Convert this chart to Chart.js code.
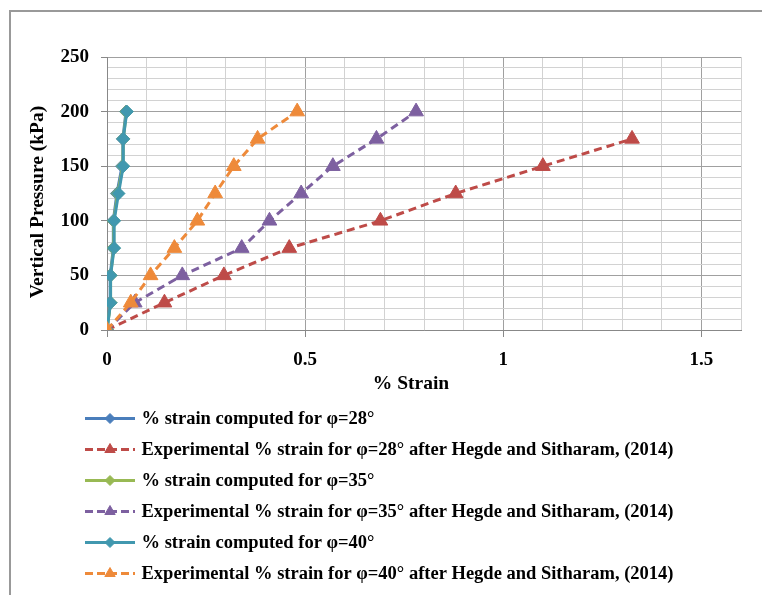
<!DOCTYPE html>
<html>
<head>
<meta charset="utf-8">
<title>Vertical Pressure vs % Strain</title>
<script src="https://cdn.jsdelivr.net/npm/chart.js@4/dist/chart.umd.min.js"></script>
<style>
	html, body { margin: 0; padding: 0; background: #fff; }
</style>
</head>
<body>
<canvas id="myChart" width="762" height="595"></canvas>
<script>
'use strict';

// vertical pressure steps (kPa)
var pressure = [0, 25, 50, 75, 100, 125, 150, 175, 200];
var pressureExp28 = [0, 25, 50, 75, 100, 125, 150, 175];

// % strain
var strainComputed28 = [0, 0.008, 0.008, 0.016, 0.016, 0.025, 0.038, 0.04, 0.048];
var strainExp28 = [0, 0.145, 0.295, 0.46, 0.69, 0.88, 1.10, 1.325];
var strainComputed35 = [0, 0.009, 0.009, 0.017, 0.017, 0.027, 0.04, 0.041, 0.049];
var strainExp35 = [0, 0.07, 0.19, 0.34, 0.41, 0.49, 0.57, 0.68, 0.78];
var strainComputed40 = [0, 0.009, 0.009, 0.018, 0.018, 0.029, 0.041, 0.041, 0.05];
var strainExp40 = [0, 0.06, 0.11, 0.17, 0.228, 0.273, 0.32, 0.38, 0.48];

var seriesNames = [
	'% strain computed for \u03c6=28\u00b0',
	'Experimental % strain for \u03c6=28\u00b0 after Hegde and Sitharam, (2014)',
	'% strain computed for \u03c6=35\u00b0',
	'Experimental % strain for \u03c6=35\u00b0 after Hegde and Sitharam, (2014)',
	'% strain computed for \u03c6=40\u00b0',
	'Experimental % strain for \u03c6=40\u00b0 after Hegde and Sitharam, (2014)'
];

var xTickLabels = [0, 0.5, 1, 1.5];
var yTickLabels = [0, 50, 100, 150, 200, 250];
var xTitle = '% Strain';
var yTitle = 'Vertical Pressure (kPa)';

(function () {

	var serif = "'Liberation Serif', 'Times New Roman', serif";
	Chart.defaults.font.family = serif;
	Chart.defaults.font.weight = 'bold';
	Chart.defaults.color = '#000';

	var colors = ['#4A7EBB', '#BE4B48', '#98B954', '#7D60A0', '#4198AF', '#EE8A3A'];

	function toPoints(xs, ys) {
		return xs.map(function (x, i) { return {x: x, y: ys[i]}; });
	}

	function inList(value, list) {
		return list.some(function (v) { return Math.abs(v - value) < 1e-6; });
	}

	function makeSet(i, xs, ys, dashed) {
		return {
			label: seriesNames[i],
			data: toPoints(xs, ys),
			borderColor: colors[i],
			backgroundColor: colors[i],
			borderWidth: 3,
			borderDash: dashed ? [8, 5] : [],
			pointStyle: dashed ? 'triangle' : 'rectRot',
			pointRadius: dashed ? 8.5 : 6.5,
			pointHoverRadius: dashed ? 8.5 : 6.5,
			pointBorderWidth: 1,
			showLine: true,
			tension: 0,
			fill: false,
			order: 5 - i
		};
	}

	var datasets = [
		makeSet(0, strainComputed28, pressure, false),
		makeSet(1, strainExp28, pressureExp28, true),
		makeSet(2, strainComputed35, pressure, false),
		makeSet(3, strainExp35, pressure, true),
		makeSet(4, strainComputed40, pressure, false),
		makeSet(5, strainExp40, pressure, true)
	];

	// grey frame round the chart, axis titles and the legend block underneath
	var decorPlugin = {
		id: 'decor',
		beforeDraw: function (chart) {
			var ctx = chart.ctx;
			ctx.save();
			ctx.strokeStyle = '#999';
			ctx.lineWidth = 2;
			ctx.beginPath();
			ctx.moveTo(10, 595);
			ctx.lineTo(10, 11);
			ctx.lineTo(762, 11);
			ctx.stroke();
			ctx.restore();
		},
		afterDraw: function (chart) {
			var ctx = chart.ctx;
			ctx.save();
			ctx.fillStyle = '#000';
			ctx.font = 'bold 19.5px ' + serif;
			ctx.textAlign = 'center';
			ctx.textBaseline = 'alphabetic';
			ctx.fillText(xTitle, 411, 389);
			ctx.translate(42.5, 202);
			ctx.rotate(-Math.PI / 2);
			ctx.fillText(yTitle, 0, 0);
			ctx.restore();

			chart.data.datasets.forEach(function (ds, i) {
				var y = 418.5 + i * 31;
				var dashed = ds.borderDash.length > 0;
				ctx.save();
				ctx.strokeStyle = ds.borderColor;
				ctx.fillStyle = ds.backgroundColor;
				ctx.lineWidth = 3;
				ctx.setLineDash(dashed ? [8, 4] : []);
				ctx.beginPath();
				ctx.moveTo(85, y);
				ctx.lineTo(135, y);
				ctx.stroke();
				ctx.setLineDash([]);
				ctx.lineWidth = 1;
				Chart.helpers.drawPoint(ctx, {
					pointStyle: ds.pointStyle,
					radius: dashed ? 6 : 5,
					rotation: 0,
					borderWidth: 1
				}, 110, y);
				ctx.fillStyle = '#000';
				ctx.font = 'bold 18.5px ' + serif;
				ctx.textAlign = 'left';
				ctx.textBaseline = 'middle';
				ctx.fillText(ds.label, 141.5, y + 1);
				ctx.restore();
			});
		}
	};

	var ctx = document.getElementById('myChart').getContext('2d');
	var myChart = new Chart(ctx, {
		type: 'scatter',
		data: {datasets: datasets},
		plugins: [decorPlugin],
		options: {
			responsive: false,
			animation: false,
			events: [],
			layout: {padding: {left: 0, top: 57, right: 21, bottom: 205}},
			plugins: {
				legend: {display: false},
				tooltip: {enabled: false}
			},
			scales: {
				x: {
					type: 'linear',
					min: 0,
					max: 1.6,
					afterFit: function (scale) { scale.height = 60; },
					ticks: {
						stepSize: 0.1,
						autoSkip: false,
						maxRotation: 0,
						padding: 12,
						font: {size: 19, weight: 'bold'},
						callback: function (v) {
							return inList(v, xTickLabels) ? String(Math.round(v * 10) / 10) : '';
						}
					},
					grid: {
						lineWidth: 1,
						tickLength: 7,
						color: function (c) { return inList(c.tick.value, xTickLabels) ? '#a0a0a0' : '#d2d2d2'; },
						tickColor: function (c) { return inList(c.tick.value, xTickLabels) ? '#888' : 'rgba(0,0,0,0)'; }
					},
					border: {color: '#888', width: 1}
				},
				y: {
					type: 'linear',
					min: 0,
					max: 250,
					afterFit: function (scale) { scale.width = 107; },
					ticks: {
						stepSize: 10,
						autoSkip: false,
						padding: 12,
						font: {size: 19, weight: 'bold'},
						callback: function (v) {
							return inList(v, yTickLabels) ? String(v) : '';
						}
					},
					grid: {
						lineWidth: 1,
						tickLength: 6,
						color: function (c) { return inList(c.tick.value, yTickLabels) ? '#a0a0a0' : '#d2d2d2'; },
						tickColor: function (c) { return inList(c.tick.value, yTickLabels) ? '#888' : 'rgba(0,0,0,0)'; }
					},
					border: {color: '#888', width: 1}
				}
			}
		}
	});
})();
</script>
</body>
</html>
